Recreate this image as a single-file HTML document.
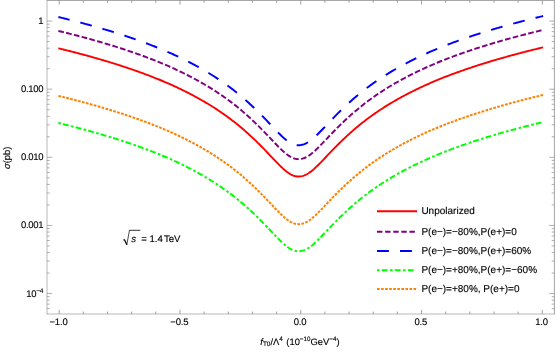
<!DOCTYPE html><html><head><meta charset="utf-8"><style>html,body{margin:0;padding:0;background:#fff}svg{display:block;will-change:transform}text{font-family:"Liberation Sans",sans-serif;fill:#000;stroke:#000;stroke-width:0.13px;text-rendering:geometricPrecision}</style></head><body>
<svg width="560" height="354" viewBox="0 0 560 354">
<rect width="560" height="354" fill="#fff"/>
<path d="M58.37,48.28 L59.58,48.57 L60.79,48.87 L62.01,49.17 L63.22,49.47 L64.43,49.77 L65.64,50.07 L66.85,50.37 L68.07,50.67 L69.28,50.98 L70.49,51.29 L71.70,51.60 L72.91,51.91 L74.12,52.22 L75.34,52.54 L76.55,52.85 L77.76,53.17 L78.97,53.49 L80.18,53.81 L81.40,54.13 L82.61,54.46 L83.82,54.78 L85.03,55.11 L86.24,55.44 L87.46,55.77 L88.67,56.10 L89.88,56.44 L91.09,56.78 L92.30,57.12 L93.52,57.46 L94.73,57.80 L95.94,58.15 L97.15,58.49 L98.36,58.84 L99.57,59.19 L100.79,59.54 L102.00,59.90 L103.21,60.26 L104.42,60.62 L105.63,60.98 L106.85,61.34 L108.06,61.71 L109.27,62.08 L110.48,62.45 L111.69,62.82 L112.91,63.19 L114.12,63.57 L115.33,63.95 L116.54,64.33 L117.75,64.72 L118.96,65.10 L120.18,65.49 L121.39,65.89 L122.60,66.28 L123.81,66.68 L125.02,67.08 L126.24,67.48 L127.45,67.88 L128.66,68.29 L129.87,68.70 L131.08,69.12 L132.30,69.53 L133.51,69.95 L134.72,70.37 L135.93,70.80 L137.14,71.23 L138.36,71.66 L139.57,72.09 L140.78,72.53 L141.99,72.97 L143.20,73.41 L144.41,73.86 L145.63,74.31 L146.84,74.77 L148.05,75.22 L149.26,75.68 L150.47,76.15 L151.69,76.61 L152.90,77.09 L154.11,77.56 L155.32,78.04 L156.53,78.52 L157.75,79.01 L158.96,79.50 L160.17,80.00 L161.38,80.50 L162.59,81.00 L163.81,81.52 L165.02,82.03 L166.23,82.55 L167.44,83.08 L168.65,83.61 L169.86,84.15 L171.08,84.69 L172.29,85.23 L173.50,85.79 L174.71,86.34 L175.92,86.90 L177.14,87.47 L178.35,88.04 L179.56,88.62 L180.77,89.20 L181.98,89.79 L183.20,90.39 L184.41,90.99 L185.62,91.59 L186.83,92.20 L188.04,92.82 L189.26,93.44 L190.47,94.07 L191.68,94.70 L192.89,95.34 L194.10,95.99 L195.31,96.64 L196.53,97.30 L197.74,97.97 L198.95,98.64 L200.16,99.32 L201.37,100.00 L202.59,100.70 L203.80,101.40 L205.01,102.11 L206.22,102.83 L207.43,103.55 L208.65,104.28 L209.86,105.03 L211.07,105.77 L212.28,106.53 L213.49,107.30 L214.71,108.07 L215.92,108.86 L217.13,109.65 L218.34,110.45 L219.55,111.27 L220.76,112.09 L221.98,112.92 L223.19,113.76 L224.40,114.61 L225.61,115.47 L226.82,116.34 L228.04,117.23 L229.25,118.12 L230.46,119.03 L231.67,119.94 L232.88,120.88 L234.10,121.82 L235.31,122.77 L236.52,123.74 L237.73,124.72 L238.94,125.71 L240.15,126.72 L241.37,127.73 L242.58,128.76 L243.79,129.81 L245.00,130.86 L246.21,131.93 L247.43,133.01 L248.64,134.11 L249.85,135.21 L251.06,136.33 L252.27,137.46 L253.49,138.61 L254.70,139.77 L255.91,140.94 L257.12,142.12 L258.33,143.31 L259.55,144.52 L260.76,145.74 L261.97,146.97 L263.18,148.21 L264.39,149.46 L265.60,150.71 L266.82,151.98 L268.03,153.25 L269.24,154.53 L270.45,155.81 L271.66,157.09 L272.88,158.37 L274.09,159.65 L275.30,160.91 L276.51,162.17 L277.72,163.42 L278.94,164.64 L280.15,165.84 L281.36,167.01 L282.57,168.15 L283.78,169.24 L285.00,170.29 L286.21,171.27 L287.42,172.20 L288.63,173.05 L289.84,173.83 L291.05,174.52 L292.27,175.11 L293.48,175.61 L294.69,176.01 L295.90,176.30 L297.11,176.47 L298.33,176.54 L299.54,176.48 L300.75,176.32 L301.96,176.12 L303.17,175.81 L304.39,175.39 L305.60,174.87 L306.81,174.25 L308.02,173.55 L309.23,172.76 L310.45,171.90 L311.66,170.96 L312.87,169.97 L314.08,168.92 L315.29,167.82 L316.50,166.68 L317.72,165.50 L318.93,164.29 L320.14,163.07 L321.35,161.82 L322.56,160.56 L323.78,159.29 L324.99,158.02 L326.20,156.74 L327.41,155.46 L328.62,154.18 L329.84,152.91 L331.05,151.64 L332.26,150.37 L333.47,149.12 L334.68,147.88 L335.90,146.64 L337.11,145.42 L338.32,144.21 L339.53,143.01 L340.74,141.82 L341.95,140.64 L343.17,139.48 L344.38,138.33 L345.59,137.20 L346.80,136.07 L348.01,134.96 L349.23,133.86 L350.44,132.78 L351.65,131.70 L352.86,130.64 L354.07,129.59 L355.29,128.56 L356.50,127.53 L357.71,126.52 L358.92,125.52 L360.13,124.53 L361.35,123.56 L362.56,122.59 L363.77,121.64 L364.98,120.70 L366.19,119.77 L367.40,118.86 L368.62,117.95 L369.83,117.06 L371.04,116.18 L372.25,115.31 L373.46,114.45 L374.68,113.60 L375.89,112.76 L377.10,111.94 L378.31,111.12 L379.52,110.31 L380.74,109.51 L381.95,108.72 L383.16,107.93 L384.37,107.16 L385.58,106.40 L386.79,105.64 L388.01,104.89 L389.22,104.15 L390.43,103.42 L391.64,102.70 L392.85,101.98 L394.07,101.28 L395.28,100.57 L396.49,99.88 L397.70,99.20 L398.91,98.52 L400.13,97.85 L401.34,97.18 L402.55,96.52 L403.76,95.87 L404.97,95.23 L406.19,94.59 L407.40,93.96 L408.61,93.33 L409.82,92.71 L411.03,92.10 L412.24,91.49 L413.46,90.89 L414.67,90.29 L415.88,89.69 L417.09,89.11 L418.30,88.53 L419.52,87.95 L420.73,87.38 L421.94,86.81 L423.15,86.25 L424.36,85.69 L425.58,85.14 L426.79,84.59 L428.00,84.05 L429.21,83.52 L430.42,82.98 L431.64,82.46 L432.85,81.94 L434.06,81.42 L435.27,80.91 L436.48,80.40 L437.69,79.90 L438.91,79.40 L440.12,78.90 L441.33,78.42 L442.54,77.93 L443.75,77.45 L444.97,76.98 L446.18,76.51 L447.39,76.04 L448.60,75.58 L449.81,75.12 L451.03,74.66 L452.24,74.21 L453.45,73.76 L454.66,73.31 L455.87,72.87 L457.09,72.43 L458.30,71.99 L459.51,71.56 L460.72,71.13 L461.93,70.70 L463.14,70.28 L464.36,69.86 L465.57,69.44 L466.78,69.02 L467.99,68.61 L469.20,68.20 L470.42,67.79 L471.63,67.39 L472.84,66.98 L474.05,66.59 L475.26,66.19 L476.48,65.79 L477.69,65.40 L478.90,65.01 L480.11,64.63 L481.32,64.24 L482.53,63.86 L483.75,63.48 L484.96,63.11 L486.17,62.73 L487.38,62.36 L488.59,61.99 L489.81,61.62 L491.02,61.26 L492.23,60.89 L493.44,60.53 L494.65,60.17 L495.87,59.82 L497.08,59.46 L498.29,59.11 L499.50,58.76 L500.71,58.41 L501.93,58.07 L503.14,57.72 L504.35,57.38 L505.56,57.04 L506.77,56.70 L507.98,56.36 L509.20,56.03 L510.41,55.69 L511.62,55.36 L512.83,55.03 L514.04,54.71 L515.26,54.38 L516.47,54.06 L517.68,53.73 L518.89,53.41 L520.10,53.10 L521.32,52.78 L522.53,52.46 L523.74,52.15 L524.95,51.84 L526.16,51.53 L527.38,51.22 L528.59,50.91 L529.80,50.60 L531.01,50.30 L532.22,50.00 L533.43,49.70 L534.65,49.40 L535.86,49.10 L537.07,48.80 L538.28,48.51 L539.49,48.21 L540.71,47.92 L541.92,47.63 L543.13,47.34" fill="none" stroke="#ff0000" stroke-width="1.9" stroke-linejoin="round"/>
<path d="M58.37,30.89 L59.58,31.19 L60.79,31.48 L62.01,31.78 L63.22,32.08 L64.43,32.38 L65.64,32.68 L66.85,32.98 L68.07,33.29 L69.28,33.59 L70.49,33.90 L71.70,34.21 L72.91,34.52 L74.12,34.83 L75.34,35.15 L76.55,35.46 L77.76,35.78 L78.97,36.10 L80.18,36.42 L81.40,36.74 L82.61,37.07 L83.82,37.39 L85.03,37.72 L86.24,38.05 L87.46,38.38 L88.67,38.72 L89.88,39.05 L91.09,39.39 L92.30,39.73 L93.52,40.07 L94.73,40.41 L95.94,40.76 L97.15,41.10 L98.36,41.45 L99.57,41.80 L100.79,42.16 L102.00,42.51 L103.21,42.87 L104.42,43.23 L105.63,43.59 L106.85,43.95 L108.06,44.32 L109.27,44.69 L110.48,45.06 L111.69,45.43 L112.91,45.80 L114.12,46.18 L115.33,46.56 L116.54,46.94 L117.75,47.33 L118.96,47.71 L120.18,48.10 L121.39,48.50 L122.60,48.89 L123.81,49.29 L125.02,49.69 L126.24,50.09 L127.45,50.50 L128.66,50.90 L129.87,51.31 L131.08,51.73 L132.30,52.14 L133.51,52.56 L134.72,52.99 L135.93,53.41 L137.14,53.84 L138.36,54.27 L139.57,54.70 L140.78,55.14 L141.99,55.58 L143.20,56.03 L144.41,56.47 L145.63,56.92 L146.84,57.38 L148.05,57.83 L149.26,58.29 L150.47,58.76 L151.69,59.23 L152.90,59.70 L154.11,60.17 L155.32,60.65 L156.53,61.13 L157.75,61.62 L158.96,62.11 L160.17,62.61 L161.38,63.11 L162.59,63.62 L163.81,64.13 L165.02,64.64 L166.23,65.16 L167.44,65.69 L168.65,66.22 L169.86,66.76 L171.08,67.30 L172.29,67.85 L173.50,68.40 L174.71,68.95 L175.92,69.52 L177.14,70.08 L178.35,70.65 L179.56,71.23 L180.77,71.82 L181.98,72.40 L183.20,73.00 L184.41,73.60 L185.62,74.20 L186.83,74.81 L188.04,75.43 L189.26,76.05 L190.47,76.68 L191.68,77.31 L192.89,77.95 L194.10,78.60 L195.31,79.25 L196.53,79.91 L197.74,80.58 L198.95,81.25 L200.16,81.93 L201.37,82.62 L202.59,83.31 L203.80,84.01 L205.01,84.72 L206.22,85.44 L207.43,86.16 L208.65,86.89 L209.86,87.64 L211.07,88.39 L212.28,89.14 L213.49,89.91 L214.71,90.69 L215.92,91.47 L217.13,92.26 L218.34,93.07 L219.55,93.88 L220.76,94.70 L221.98,95.53 L223.19,96.37 L224.40,97.22 L225.61,98.08 L226.82,98.96 L228.04,99.84 L229.25,100.73 L230.46,101.64 L231.67,102.56 L232.88,103.49 L234.10,104.43 L235.31,105.38 L236.52,106.35 L237.73,107.33 L238.94,108.32 L240.15,109.33 L241.37,110.34 L242.58,111.37 L243.79,112.42 L245.00,113.47 L246.21,114.54 L247.43,115.62 L248.64,116.72 L249.85,117.82 L251.06,118.94 L252.27,120.08 L253.49,121.22 L254.70,122.38 L255.91,123.55 L257.12,124.73 L258.33,125.92 L259.55,127.13 L260.76,128.35 L261.97,129.58 L263.18,130.82 L264.39,132.07 L265.60,133.32 L266.82,134.59 L268.03,135.86 L269.24,137.14 L270.45,138.42 L271.66,139.70 L272.88,140.98 L274.09,142.26 L275.30,143.53 L276.51,144.78 L277.72,146.03 L278.94,147.25 L280.15,148.45 L281.36,149.62 L282.57,150.76 L283.78,151.85 L285.00,152.90 L286.21,153.88 L287.42,154.81 L288.63,155.66 L289.84,156.44 L291.05,157.13 L292.27,157.72 L293.48,158.22 L294.69,158.62 L295.90,158.91 L297.11,159.08 L298.33,159.15 L299.54,159.09 L300.75,158.93 L301.96,158.73 L303.17,158.42 L304.39,158.00 L305.60,157.48 L306.81,156.86 L308.02,156.16 L309.23,155.37 L310.45,154.51 L311.66,153.57 L312.87,152.58 L314.08,151.53 L315.29,150.43 L316.50,149.29 L317.72,148.11 L318.93,146.91 L320.14,145.68 L321.35,144.43 L322.56,143.17 L323.78,141.90 L324.99,140.63 L326.20,139.35 L327.41,138.07 L328.62,136.79 L329.84,135.52 L331.05,134.25 L332.26,132.99 L333.47,131.73 L334.68,130.49 L335.90,129.25 L337.11,128.03 L338.32,126.82 L339.53,125.62 L340.74,124.43 L341.95,123.26 L343.17,122.09 L344.38,120.94 L345.59,119.81 L346.80,118.68 L348.01,117.57 L349.23,116.47 L350.44,115.39 L351.65,114.31 L352.86,113.25 L354.07,112.20 L355.29,111.17 L356.50,110.14 L357.71,109.13 L358.92,108.13 L360.13,107.14 L361.35,106.17 L362.56,105.20 L363.77,104.25 L364.98,103.31 L366.19,102.39 L367.40,101.47 L368.62,100.56 L369.83,99.67 L371.04,98.79 L372.25,97.92 L373.46,97.06 L374.68,96.21 L375.89,95.37 L377.10,94.55 L378.31,93.73 L379.52,92.92 L380.74,92.12 L381.95,91.33 L383.16,90.54 L384.37,89.77 L385.58,89.01 L386.79,88.25 L388.01,87.50 L389.22,86.76 L390.43,86.03 L391.64,85.31 L392.85,84.59 L394.07,83.89 L395.28,83.19 L396.49,82.49 L397.70,81.81 L398.91,81.13 L400.13,80.46 L401.34,79.79 L402.55,79.14 L403.76,78.49 L404.97,77.84 L406.19,77.20 L407.40,76.57 L408.61,75.95 L409.82,75.32 L411.03,74.71 L412.24,74.10 L413.46,73.50 L414.67,72.90 L415.88,72.31 L417.09,71.72 L418.30,71.14 L419.52,70.56 L420.73,69.99 L421.94,69.42 L423.15,68.86 L424.36,68.30 L425.58,67.75 L426.79,67.20 L428.00,66.66 L429.21,66.13 L430.42,65.60 L431.64,65.07 L432.85,64.55 L434.06,64.03 L435.27,63.52 L436.48,63.01 L437.69,62.51 L438.91,62.01 L440.12,61.51 L441.33,61.03 L442.54,60.54 L443.75,60.06 L444.97,59.59 L446.18,59.12 L447.39,58.65 L448.60,58.19 L449.81,57.73 L451.03,57.27 L452.24,56.82 L453.45,56.37 L454.66,55.92 L455.87,55.48 L457.09,55.04 L458.30,54.60 L459.51,54.17 L460.72,53.74 L461.93,53.31 L463.14,52.89 L464.36,52.47 L465.57,52.05 L466.78,51.63 L467.99,51.22 L469.20,50.81 L470.42,50.40 L471.63,50.00 L472.84,49.60 L474.05,49.20 L475.26,48.80 L476.48,48.41 L477.69,48.01 L478.90,47.63 L480.11,47.24 L481.32,46.86 L482.53,46.47 L483.75,46.09 L484.96,45.72 L486.17,45.34 L487.38,44.97 L488.59,44.60 L489.81,44.23 L491.02,43.87 L492.23,43.50 L493.44,43.14 L494.65,42.79 L495.87,42.43 L497.08,42.07 L498.29,41.72 L499.50,41.37 L500.71,41.02 L501.93,40.68 L503.14,40.33 L504.35,39.99 L505.56,39.65 L506.77,39.31 L507.98,38.97 L509.20,38.64 L510.41,38.31 L511.62,37.97 L512.83,37.65 L514.04,37.32 L515.26,36.99 L516.47,36.67 L517.68,36.35 L518.89,36.03 L520.10,35.71 L521.32,35.39 L522.53,35.07 L523.74,34.76 L524.95,34.45 L526.16,34.14 L527.38,33.83 L528.59,33.52 L529.80,33.22 L531.01,32.91 L532.22,32.61 L533.43,32.31 L534.65,32.01 L535.86,31.71 L537.07,31.41 L538.28,31.12 L539.49,30.82 L540.71,30.53 L541.92,30.24 L543.13,29.95" fill="none" stroke="#800080" stroke-width="1.95" stroke-dasharray="5.7 2.3015" stroke-linejoin="round"/>
<path d="M58.37,16.99 L59.58,17.28 L60.79,17.58 L62.01,17.87 L63.22,18.17 L64.43,18.47 L65.64,18.77 L66.85,19.08 L68.07,19.38 L69.28,19.69 L70.49,20.00 L71.70,20.30 L72.91,20.62 L74.12,20.93 L75.34,21.24 L76.55,21.56 L77.76,21.88 L78.97,22.19 L80.18,22.52 L81.40,22.84 L82.61,23.16 L83.82,23.49 L85.03,23.82 L86.24,24.15 L87.46,24.48 L88.67,24.81 L89.88,25.15 L91.09,25.48 L92.30,25.82 L93.52,26.16 L94.73,26.51 L95.94,26.85 L97.15,27.20 L98.36,27.55 L99.57,27.90 L100.79,28.25 L102.00,28.61 L103.21,28.96 L104.42,29.32 L105.63,29.68 L106.85,30.05 L108.06,30.41 L109.27,30.78 L110.48,31.15 L111.69,31.52 L112.91,31.90 L114.12,32.28 L115.33,32.66 L116.54,33.04 L117.75,33.42 L118.96,33.81 L120.18,34.20 L121.39,34.59 L122.60,34.99 L123.81,35.38 L125.02,35.78 L126.24,36.19 L127.45,36.59 L128.66,37.00 L129.87,37.41 L131.08,37.82 L132.30,38.24 L133.51,38.66 L134.72,39.08 L135.93,39.51 L137.14,39.93 L138.36,40.37 L139.57,40.80 L140.78,41.24 L141.99,41.68 L143.20,42.12 L144.41,42.57 L145.63,43.02 L146.84,43.47 L148.05,43.93 L149.26,44.39 L150.47,44.85 L151.69,45.32 L152.90,45.79 L154.11,46.27 L155.32,46.74 L156.53,47.23 L157.75,47.71 L158.96,48.21 L160.17,48.70 L161.38,49.20 L162.59,49.71 L163.81,50.22 L165.02,50.74 L166.23,51.26 L167.44,51.79 L168.65,52.32 L169.86,52.85 L171.08,53.39 L172.29,53.94 L173.50,54.49 L174.71,55.05 L175.92,55.61 L177.14,56.18 L178.35,56.75 L179.56,57.33 L180.77,57.91 L181.98,58.50 L183.20,59.09 L184.41,59.69 L185.62,60.30 L186.83,60.91 L188.04,61.53 L189.26,62.15 L190.47,62.78 L191.68,63.41 L192.89,64.05 L194.10,64.70 L195.31,65.35 L196.53,66.01 L197.74,66.67 L198.95,67.34 L200.16,68.02 L201.37,68.71 L202.59,69.40 L203.80,70.11 L205.01,70.82 L206.22,71.53 L207.43,72.26 L208.65,72.99 L209.86,73.73 L211.07,74.48 L212.28,75.24 L213.49,76.01 L214.71,76.78 L215.92,77.57 L217.13,78.36 L218.34,79.16 L219.55,79.97 L220.76,80.79 L221.98,81.63 L223.19,82.47 L224.40,83.32 L225.61,84.18 L226.82,85.05 L228.04,85.93 L229.25,86.83 L230.46,87.73 L231.67,88.65 L232.88,89.58 L234.10,90.52 L235.31,91.48 L236.52,92.45 L237.73,93.43 L238.94,94.42 L240.15,95.42 L241.37,96.44 L242.58,97.47 L243.79,98.51 L245.00,99.57 L246.21,100.64 L247.43,101.72 L248.64,102.81 L249.85,103.92 L251.06,105.04 L252.27,106.17 L253.49,107.31 L254.70,108.47 L255.91,109.64 L257.12,110.82 L258.33,112.02 L259.55,113.22 L260.76,114.44 L261.97,115.67 L263.18,116.91 L264.39,118.16 L265.60,119.42 L266.82,120.69 L268.03,121.96 L269.24,123.24 L270.45,124.52 L271.66,125.80 L272.88,127.08 L274.09,128.35 L275.30,129.62 L276.51,130.88 L277.72,132.12 L278.94,133.35 L280.15,134.55 L281.36,135.72 L282.57,136.85 L283.78,137.95 L285.00,138.99 L286.21,139.98 L287.42,140.90 L288.63,141.76 L289.84,142.53 L291.05,143.22 L292.27,143.82 L293.48,144.32 L294.69,144.71 L295.90,145.00 L297.11,145.18 L298.33,145.24 L299.54,145.19 L300.75,145.02 L301.96,144.82 L303.17,144.51 L304.39,144.09 L305.60,143.58 L306.81,142.96 L308.02,142.25 L309.23,141.47 L310.45,140.60 L311.66,139.67 L312.87,138.67 L314.08,137.62 L315.29,136.52 L316.50,135.38 L317.72,134.21 L318.93,133.00 L320.14,131.77 L321.35,130.53 L322.56,129.27 L323.78,128.00 L324.99,126.72 L326.20,125.44 L327.41,124.16 L328.62,122.89 L329.84,121.61 L331.05,120.34 L332.26,119.08 L333.47,117.83 L334.68,116.58 L335.90,115.35 L337.11,114.13 L338.32,112.91 L339.53,111.71 L340.74,110.53 L341.95,109.35 L343.17,108.19 L344.38,107.04 L345.59,105.90 L346.80,104.78 L348.01,103.67 L349.23,102.57 L350.44,101.48 L351.65,100.41 L352.86,99.35 L354.07,98.30 L355.29,97.26 L356.50,96.24 L357.71,95.23 L358.92,94.23 L360.13,93.24 L361.35,92.26 L362.56,91.30 L363.77,90.35 L364.98,89.41 L366.19,88.48 L367.40,87.56 L368.62,86.66 L369.83,85.77 L371.04,84.89 L372.25,84.02 L373.46,83.16 L374.68,82.31 L375.89,81.47 L377.10,80.64 L378.31,79.82 L379.52,79.01 L380.74,78.21 L381.95,77.42 L383.16,76.64 L384.37,75.87 L385.58,75.10 L386.79,74.35 L388.01,73.60 L389.22,72.86 L390.43,72.13 L391.64,71.40 L392.85,70.69 L394.07,69.98 L395.28,69.28 L396.49,68.59 L397.70,67.90 L398.91,67.22 L400.13,66.55 L401.34,65.89 L402.55,65.23 L403.76,64.58 L404.97,63.94 L406.19,63.30 L407.40,62.67 L408.61,62.04 L409.82,61.42 L411.03,60.81 L412.24,60.20 L413.46,59.59 L414.67,58.99 L415.88,58.40 L417.09,57.81 L418.30,57.23 L419.52,56.65 L420.73,56.08 L421.94,55.52 L423.15,54.95 L424.36,54.40 L425.58,53.85 L426.79,53.30 L428.00,52.76 L429.21,52.22 L430.42,51.69 L431.64,51.16 L432.85,50.64 L434.06,50.12 L435.27,49.61 L436.48,49.10 L437.69,48.60 L438.91,48.10 L440.12,47.61 L441.33,47.12 L442.54,46.64 L443.75,46.16 L444.97,45.68 L446.18,45.21 L447.39,44.75 L448.60,44.28 L449.81,43.82 L451.03,43.37 L452.24,42.91 L453.45,42.46 L454.66,42.02 L455.87,41.58 L457.09,41.14 L458.30,40.70 L459.51,40.27 L460.72,39.83 L461.93,39.41 L463.14,38.98 L464.36,38.56 L465.57,38.14 L466.78,37.73 L467.99,37.31 L469.20,36.90 L470.42,36.50 L471.63,36.09 L472.84,35.69 L474.05,35.29 L475.26,34.90 L476.48,34.50 L477.69,34.11 L478.90,33.72 L480.11,33.33 L481.32,32.95 L482.53,32.57 L483.75,32.19 L484.96,31.81 L486.17,31.44 L487.38,31.07 L488.59,30.70 L489.81,30.33 L491.02,29.96 L492.23,29.60 L493.44,29.24 L494.65,28.88 L495.87,28.52 L497.08,28.17 L498.29,27.82 L499.50,27.47 L500.71,27.12 L501.93,26.77 L503.14,26.43 L504.35,26.08 L505.56,25.74 L506.77,25.41 L507.98,25.07 L509.20,24.73 L510.41,24.40 L511.62,24.07 L512.83,23.74 L514.04,23.41 L515.26,23.09 L516.47,22.76 L517.68,22.44 L518.89,22.12 L520.10,21.80 L521.32,21.48 L522.53,21.17 L523.74,20.86 L524.95,20.54 L526.16,20.23 L527.38,19.92 L528.59,19.62 L529.80,19.31 L531.01,19.01 L532.22,18.70 L533.43,18.40 L534.65,18.10 L535.86,17.80 L537.07,17.51 L538.28,17.21 L539.49,16.92 L540.71,16.63 L541.92,16.34 L543.13,16.05" fill="none" stroke="#0000ff" stroke-width="1.95" stroke-dasharray="11.9 11.1" stroke-dashoffset="0.37" stroke-linejoin="round"/>
<path d="M58.37,123.00 L59.58,123.30 L60.79,123.59 L62.01,123.89 L63.22,124.19 L64.43,124.49 L65.64,124.79 L66.85,125.09 L68.07,125.40 L69.28,125.70 L70.49,126.01 L71.70,126.32 L72.91,126.63 L74.12,126.94 L75.34,127.26 L76.55,127.57 L77.76,127.89 L78.97,128.21 L80.18,128.53 L81.40,128.85 L82.61,129.18 L83.82,129.50 L85.03,129.83 L86.24,130.16 L87.46,130.49 L88.67,130.83 L89.88,131.16 L91.09,131.50 L92.30,131.84 L93.52,132.18 L94.73,132.52 L95.94,132.87 L97.15,133.21 L98.36,133.56 L99.57,133.91 L100.79,134.27 L102.00,134.62 L103.21,134.98 L104.42,135.34 L105.63,135.70 L106.85,136.06 L108.06,136.43 L109.27,136.80 L110.48,137.17 L111.69,137.54 L112.91,137.91 L114.12,138.29 L115.33,138.67 L116.54,139.05 L117.75,139.44 L118.96,139.83 L120.18,140.22 L121.39,140.61 L122.60,141.00 L123.81,141.40 L125.02,141.80 L126.24,142.20 L127.45,142.61 L128.66,143.01 L129.87,143.43 L131.08,143.84 L132.30,144.25 L133.51,144.67 L134.72,145.10 L135.93,145.52 L137.14,145.95 L138.36,146.38 L139.57,146.81 L140.78,147.25 L141.99,147.69 L143.20,148.14 L144.41,148.58 L145.63,149.03 L146.84,149.49 L148.05,149.94 L149.26,150.40 L150.47,150.87 L151.69,151.34 L152.90,151.81 L154.11,152.28 L155.32,152.76 L156.53,153.24 L157.75,153.73 L158.96,154.22 L160.17,154.72 L161.38,155.22 L162.59,155.73 L163.81,156.24 L165.02,156.75 L166.23,157.28 L167.44,157.80 L168.65,158.33 L169.86,158.87 L171.08,159.41 L172.29,159.96 L173.50,160.51 L174.71,161.06 L175.92,161.63 L177.14,162.19 L178.35,162.77 L179.56,163.34 L180.77,163.93 L181.98,164.51 L183.20,165.11 L184.41,165.71 L185.62,166.31 L186.83,166.92 L188.04,167.54 L189.26,168.16 L190.47,168.79 L191.68,169.43 L192.89,170.07 L194.10,170.71 L195.31,171.36 L196.53,172.02 L197.74,172.69 L198.95,173.36 L200.16,174.04 L201.37,174.73 L202.59,175.42 L203.80,176.12 L205.01,176.83 L206.22,177.55 L207.43,178.27 L208.65,179.01 L209.86,179.75 L211.07,180.50 L212.28,181.25 L213.49,182.02 L214.71,182.80 L215.92,183.58 L217.13,184.37 L218.34,185.18 L219.55,185.99 L220.76,186.81 L221.98,187.64 L223.19,188.48 L224.40,189.33 L225.61,190.19 L226.82,191.07 L228.04,191.95 L229.25,192.84 L230.46,193.75 L231.67,194.67 L232.88,195.60 L234.10,196.54 L235.31,197.49 L236.52,198.46 L237.73,199.44 L238.94,200.43 L240.15,201.44 L241.37,202.45 L242.58,203.48 L243.79,204.53 L245.00,205.58 L246.21,206.65 L247.43,207.73 L248.64,208.83 L249.85,209.93 L251.06,211.05 L252.27,212.19 L253.49,213.33 L254.70,214.49 L255.91,215.66 L257.12,216.84 L258.33,218.03 L259.55,219.24 L260.76,220.46 L261.97,221.69 L263.18,222.93 L264.39,224.18 L265.60,225.44 L266.82,226.70 L268.03,227.97 L269.24,229.25 L270.45,230.53 L271.66,231.81 L272.88,233.09 L274.09,234.37 L275.30,235.64 L276.51,236.89 L277.72,238.14 L278.94,239.36 L280.15,240.56 L281.36,241.73 L282.57,242.87 L283.78,243.96 L285.00,245.01 L286.21,246.00 L287.42,246.92 L288.63,247.77 L289.84,248.55 L291.05,249.24 L292.27,249.83 L293.48,250.33 L294.69,250.73 L295.90,251.02 L297.11,251.19 L298.33,251.26 L299.54,251.21 L300.75,251.04 L301.96,250.84 L303.17,250.53 L304.39,250.11 L305.60,249.59 L306.81,248.98 L308.02,248.27 L309.23,247.48 L310.45,246.62 L311.66,245.68 L312.87,244.69 L314.08,243.64 L315.29,242.54 L316.50,241.40 L317.72,240.22 L318.93,239.02 L320.14,237.79 L321.35,236.54 L322.56,235.28 L323.78,234.01 L324.99,232.74 L326.20,231.46 L327.41,230.18 L328.62,228.90 L329.84,227.63 L331.05,226.36 L332.26,225.10 L333.47,223.84 L334.68,222.60 L335.90,221.36 L337.11,220.14 L338.32,218.93 L339.53,217.73 L340.74,216.54 L341.95,215.37 L343.17,214.20 L344.38,213.05 L345.59,211.92 L346.80,210.79 L348.01,209.68 L349.23,208.58 L350.44,207.50 L351.65,206.42 L352.86,205.36 L354.07,204.31 L355.29,203.28 L356.50,202.25 L357.71,201.24 L358.92,200.24 L360.13,199.25 L361.35,198.28 L362.56,197.31 L363.77,196.36 L364.98,195.42 L366.19,194.50 L367.40,193.58 L368.62,192.67 L369.83,191.78 L371.04,190.90 L372.25,190.03 L373.46,189.17 L374.68,188.32 L375.89,187.49 L377.10,186.66 L378.31,185.84 L379.52,185.03 L380.74,184.23 L381.95,183.44 L383.16,182.66 L384.37,181.88 L385.58,181.12 L386.79,180.36 L388.01,179.61 L389.22,178.87 L390.43,178.14 L391.64,177.42 L392.85,176.70 L394.07,176.00 L395.28,175.30 L396.49,174.60 L397.70,173.92 L398.91,173.24 L400.13,172.57 L401.34,171.90 L402.55,171.25 L403.76,170.60 L404.97,169.95 L406.19,169.31 L407.40,168.68 L408.61,168.06 L409.82,167.44 L411.03,166.82 L412.24,166.21 L413.46,165.61 L414.67,165.01 L415.88,164.42 L417.09,163.83 L418.30,163.25 L419.52,162.67 L420.73,162.10 L421.94,161.53 L423.15,160.97 L424.36,160.41 L425.58,159.86 L426.79,159.32 L428.00,158.77 L429.21,158.24 L430.42,157.71 L431.64,157.18 L432.85,156.66 L434.06,156.14 L435.27,155.63 L436.48,155.12 L437.69,154.62 L438.91,154.12 L440.12,153.63 L441.33,153.14 L442.54,152.65 L443.75,152.17 L444.97,151.70 L446.18,151.23 L447.39,150.76 L448.60,150.30 L449.81,149.84 L451.03,149.38 L452.24,148.93 L453.45,148.48 L454.66,148.03 L455.87,147.59 L457.09,147.15 L458.30,146.71 L459.51,146.28 L460.72,145.85 L461.93,145.42 L463.14,145.00 L464.36,144.58 L465.57,144.16 L466.78,143.74 L467.99,143.33 L469.20,142.92 L470.42,142.51 L471.63,142.11 L472.84,141.71 L474.05,141.31 L475.26,140.91 L476.48,140.52 L477.69,140.13 L478.90,139.74 L480.11,139.35 L481.32,138.97 L482.53,138.58 L483.75,138.20 L484.96,137.83 L486.17,137.45 L487.38,137.08 L488.59,136.71 L489.81,136.34 L491.02,135.98 L492.23,135.62 L493.44,135.25 L494.65,134.90 L495.87,134.54 L497.08,134.18 L498.29,133.83 L499.50,133.48 L500.71,133.13 L501.93,132.79 L503.14,132.44 L504.35,132.10 L505.56,131.76 L506.77,131.42 L507.98,131.08 L509.20,130.75 L510.41,130.42 L511.62,130.09 L512.83,129.76 L514.04,129.43 L515.26,129.10 L516.47,128.78 L517.68,128.46 L518.89,128.14 L520.10,127.82 L521.32,127.50 L522.53,127.18 L523.74,126.87 L524.95,126.56 L526.16,126.25 L527.38,125.94 L528.59,125.63 L529.80,125.33 L531.01,125.02 L532.22,124.72 L533.43,124.42 L534.65,124.12 L535.86,123.82 L537.07,123.52 L538.28,123.23 L539.49,122.93 L540.71,122.64 L541.92,122.35 L543.13,122.06" fill="none" stroke="#00ff00" stroke-width="2.0" stroke-dasharray="2.6 2.1 5.85 2.48" stroke-linejoin="round"/>
<path d="M58.37,95.89 L59.58,96.19 L60.79,96.48 L62.01,96.78 L63.22,97.08 L64.43,97.38 L65.64,97.68 L66.85,97.98 L68.07,98.29 L69.28,98.59 L70.49,98.90 L71.70,99.21 L72.91,99.52 L74.12,99.84 L75.34,100.15 L76.55,100.47 L77.76,100.78 L78.97,101.10 L80.18,101.42 L81.40,101.75 L82.61,102.07 L83.82,102.40 L85.03,102.72 L86.24,103.05 L87.46,103.39 L88.67,103.72 L89.88,104.05 L91.09,104.39 L92.30,104.73 L93.52,105.07 L94.73,105.41 L95.94,105.76 L97.15,106.11 L98.36,106.45 L99.57,106.81 L100.79,107.16 L102.00,107.51 L103.21,107.87 L104.42,108.23 L105.63,108.59 L106.85,108.96 L108.06,109.32 L109.27,109.69 L110.48,110.06 L111.69,110.43 L112.91,110.81 L114.12,111.18 L115.33,111.56 L116.54,111.95 L117.75,112.33 L118.96,112.72 L120.18,113.11 L121.39,113.50 L122.60,113.89 L123.81,114.29 L125.02,114.69 L126.24,115.09 L127.45,115.50 L128.66,115.91 L129.87,116.32 L131.08,116.73 L132.30,117.15 L133.51,117.57 L134.72,117.99 L135.93,118.41 L137.14,118.84 L138.36,119.27 L139.57,119.71 L140.78,120.14 L141.99,120.58 L143.20,121.03 L144.41,121.48 L145.63,121.93 L146.84,122.38 L148.05,122.84 L149.26,123.30 L150.47,123.76 L151.69,124.23 L152.90,124.70 L154.11,125.17 L155.32,125.65 L156.53,126.13 L157.75,126.62 L158.96,127.11 L160.17,127.61 L161.38,128.11 L162.59,128.62 L163.81,129.13 L165.02,129.65 L166.23,130.17 L167.44,130.69 L168.65,131.22 L169.86,131.76 L171.08,132.30 L172.29,132.85 L173.50,133.40 L174.71,133.96 L175.92,134.52 L177.14,135.09 L178.35,135.66 L179.56,136.24 L180.77,136.82 L181.98,137.41 L183.20,138.00 L184.41,138.60 L185.62,139.21 L186.83,139.82 L188.04,140.43 L189.26,141.06 L190.47,141.68 L191.68,142.32 L192.89,142.96 L194.10,143.60 L195.31,144.26 L196.53,144.91 L197.74,145.58 L198.95,146.25 L200.16,146.93 L201.37,147.62 L202.59,148.31 L203.80,149.01 L205.01,149.72 L206.22,150.44 L207.43,151.17 L208.65,151.90 L209.86,152.64 L211.07,153.39 L212.28,154.15 L213.49,154.91 L214.71,155.69 L215.92,156.47 L217.13,157.27 L218.34,158.07 L219.55,158.88 L220.76,159.70 L221.98,160.53 L223.19,161.37 L224.40,162.23 L225.61,163.09 L226.82,163.96 L228.04,164.84 L229.25,165.74 L230.46,166.64 L231.67,167.56 L232.88,168.49 L234.10,169.43 L235.31,170.39 L236.52,171.35 L237.73,172.33 L238.94,173.32 L240.15,174.33 L241.37,175.35 L242.58,176.38 L243.79,177.42 L245.00,178.48 L246.21,179.54 L247.43,180.63 L248.64,181.72 L249.85,182.83 L251.06,183.95 L252.27,185.08 L253.49,186.22 L254.70,187.38 L255.91,188.55 L257.12,189.73 L258.33,190.93 L259.55,192.13 L260.76,193.35 L261.97,194.58 L263.18,195.82 L264.39,197.07 L265.60,198.33 L266.82,199.59 L268.03,200.87 L269.24,202.14 L270.45,203.42 L271.66,204.70 L272.88,205.98 L274.09,207.26 L275.30,208.53 L276.51,209.79 L277.72,211.03 L278.94,212.25 L280.15,213.45 L281.36,214.62 L282.57,215.76 L283.78,216.85 L285.00,217.90 L286.21,218.89 L287.42,219.81 L288.63,220.67 L289.84,221.44 L291.05,222.13 L292.27,222.73 L293.48,223.23 L294.69,223.62 L295.90,223.91 L297.11,224.09 L298.33,224.15 L299.54,224.10 L300.75,223.93 L301.96,223.73 L303.17,223.42 L304.39,223.00 L305.60,222.48 L306.81,221.87 L308.02,221.16 L309.23,220.37 L310.45,219.51 L311.66,218.58 L312.87,217.58 L314.08,216.53 L315.29,215.43 L316.50,214.29 L317.72,213.11 L318.93,211.91 L320.14,210.68 L321.35,209.43 L322.56,208.17 L323.78,206.91 L324.99,205.63 L326.20,204.35 L327.41,203.07 L328.62,201.79 L329.84,200.52 L331.05,199.25 L332.26,197.99 L333.47,196.74 L334.68,195.49 L335.90,194.26 L337.11,193.03 L338.32,191.82 L339.53,190.62 L340.74,189.43 L341.95,188.26 L343.17,187.10 L344.38,185.95 L345.59,184.81 L346.80,183.69 L348.01,182.57 L349.23,181.48 L350.44,180.39 L351.65,179.32 L352.86,178.26 L354.07,177.21 L355.29,176.17 L356.50,175.15 L357.71,174.13 L358.92,173.13 L360.13,172.15 L361.35,171.17 L362.56,170.21 L363.77,169.26 L364.98,168.32 L366.19,167.39 L367.40,166.47 L368.62,165.57 L369.83,164.67 L371.04,163.79 L372.25,162.92 L373.46,162.06 L374.68,161.22 L375.89,160.38 L377.10,159.55 L378.31,158.73 L379.52,157.92 L380.74,157.12 L381.95,156.33 L383.16,155.55 L384.37,154.77 L385.58,154.01 L386.79,153.25 L388.01,152.51 L389.22,151.77 L390.43,151.04 L391.64,150.31 L392.85,149.60 L394.07,148.89 L395.28,148.19 L396.49,147.50 L397.70,146.81 L398.91,146.13 L400.13,145.46 L401.34,144.80 L402.55,144.14 L403.76,143.49 L404.97,142.84 L406.19,142.21 L407.40,141.57 L408.61,140.95 L409.82,140.33 L411.03,139.71 L412.24,139.10 L413.46,138.50 L414.67,137.90 L415.88,137.31 L417.09,136.72 L418.30,136.14 L419.52,135.56 L420.73,134.99 L421.94,134.42 L423.15,133.86 L424.36,133.31 L425.58,132.75 L426.79,132.21 L428.00,131.67 L429.21,131.13 L430.42,130.60 L431.64,130.07 L432.85,129.55 L434.06,129.03 L435.27,128.52 L436.48,128.01 L437.69,127.51 L438.91,127.01 L440.12,126.52 L441.33,126.03 L442.54,125.54 L443.75,125.07 L444.97,124.59 L446.18,124.12 L447.39,123.65 L448.60,123.19 L449.81,122.73 L451.03,122.27 L452.24,121.82 L453.45,121.37 L454.66,120.93 L455.87,120.48 L457.09,120.04 L458.30,119.61 L459.51,119.17 L460.72,118.74 L461.93,118.32 L463.14,117.89 L464.36,117.47 L465.57,117.05 L466.78,116.64 L467.99,116.22 L469.20,115.81 L470.42,115.41 L471.63,115.00 L472.84,114.60 L474.05,114.20 L475.26,113.80 L476.48,113.41 L477.69,113.02 L478.90,112.63 L480.11,112.24 L481.32,111.86 L482.53,111.48 L483.75,111.10 L484.96,110.72 L486.17,110.35 L487.38,109.97 L488.59,109.60 L489.81,109.24 L491.02,108.87 L492.23,108.51 L493.44,108.15 L494.65,107.79 L495.87,107.43 L497.08,107.08 L498.29,106.72 L499.50,106.37 L500.71,106.03 L501.93,105.68 L503.14,105.33 L504.35,104.99 L505.56,104.65 L506.77,104.31 L507.98,103.98 L509.20,103.64 L510.41,103.31 L511.62,102.98 L512.83,102.65 L514.04,102.32 L515.26,101.99 L516.47,101.67 L517.68,101.35 L518.89,101.03 L520.10,100.71 L521.32,100.39 L522.53,100.08 L523.74,99.76 L524.95,99.45 L526.16,99.14 L527.38,98.83 L528.59,98.52 L529.80,98.22 L531.01,97.91 L532.22,97.61 L533.43,97.31 L534.65,97.01 L535.86,96.71 L537.07,96.42 L538.28,96.12 L539.49,95.83 L540.71,95.53 L541.92,95.24 L543.13,94.95" fill="none" stroke="#ff8000" stroke-width="2.0" stroke-dasharray="2.7 1.3633" stroke-linejoin="round"/>
<g stroke="#8c8c8c" stroke-width="0.8" fill="none">
<path d="M46.70,0.45H554.80 M554.40,0.45V314.30"/>
<path d="M47.00,0.45V314.30 M46.70,314.00H554.80" stroke-width="0.6"/>
<path d="M59.20,314.00v-4.10 M59.20,0.45v4.10"/>
<path d="M83.35,314.00v-2.40 M83.35,0.45v2.40"/>
<path d="M107.51,314.00v-2.40 M107.51,0.45v2.40"/>
<path d="M131.66,314.00v-2.40 M131.66,0.45v2.40"/>
<path d="M155.82,314.00v-2.40 M155.82,0.45v2.40"/>
<path d="M179.97,314.00v-4.10 M179.97,0.45v4.10"/>
<path d="M204.13,314.00v-2.40 M204.13,0.45v2.40"/>
<path d="M228.28,314.00v-2.40 M228.28,0.45v2.40"/>
<path d="M252.44,314.00v-2.40 M252.44,0.45v2.40"/>
<path d="M276.60,314.00v-2.40 M276.60,0.45v2.40"/>
<path d="M300.75,314.00v-4.10 M300.75,0.45v4.10"/>
<path d="M324.90,314.00v-2.40 M324.90,0.45v2.40"/>
<path d="M349.06,314.00v-2.40 M349.06,0.45v2.40"/>
<path d="M373.22,314.00v-2.40 M373.22,0.45v2.40"/>
<path d="M397.37,314.00v-2.40 M397.37,0.45v2.40"/>
<path d="M421.52,314.00v-4.10 M421.52,0.45v4.10"/>
<path d="M445.68,314.00v-2.40 M445.68,0.45v2.40"/>
<path d="M469.84,314.00v-2.40 M469.84,0.45v2.40"/>
<path d="M493.99,314.00v-2.40 M493.99,0.45v2.40"/>
<path d="M518.14,314.00v-2.40 M518.14,0.45v2.40"/>
<path d="M542.30,314.00v-4.10 M542.30,0.45v4.10"/>
<path d="M47.00,308.67h2.70 M554.40,308.67h-2.70" stroke-width="0.7"/>
<path d="M47.00,304.11h2.70 M554.40,304.11h-2.70" stroke-width="0.7"/>
<path d="M47.00,300.16h2.70 M554.40,300.16h-2.70" stroke-width="0.7"/>
<path d="M47.00,296.68h2.70 M554.40,296.68h-2.70" stroke-width="0.7"/>
<path d="M47.00,293.56h5.20 M554.40,293.56h-5.20" stroke-width="0.7"/>
<path d="M47.00,273.05h2.70 M554.40,273.05h-2.70" stroke-width="0.7"/>
<path d="M47.00,261.06h2.70 M554.40,261.06h-2.70" stroke-width="0.7"/>
<path d="M47.00,252.55h2.70 M554.40,252.55h-2.70" stroke-width="0.7"/>
<path d="M47.00,245.95h2.70 M554.40,245.95h-2.70" stroke-width="0.7"/>
<path d="M47.00,240.55h2.70 M554.40,240.55h-2.70" stroke-width="0.7"/>
<path d="M47.00,235.99h2.70 M554.40,235.99h-2.70" stroke-width="0.7"/>
<path d="M47.00,232.04h2.70 M554.40,232.04h-2.70" stroke-width="0.7"/>
<path d="M47.00,228.56h2.70 M554.40,228.56h-2.70" stroke-width="0.7"/>
<path d="M47.00,225.44h5.20 M554.40,225.44h-5.20" stroke-width="0.7"/>
<path d="M47.00,204.93h2.70 M554.40,204.93h-2.70" stroke-width="0.7"/>
<path d="M47.00,192.94h2.70 M554.40,192.94h-2.70" stroke-width="0.7"/>
<path d="M47.00,184.43h2.70 M554.40,184.43h-2.70" stroke-width="0.7"/>
<path d="M47.00,177.83h2.70 M554.40,177.83h-2.70" stroke-width="0.7"/>
<path d="M47.00,172.43h2.70 M554.40,172.43h-2.70" stroke-width="0.7"/>
<path d="M47.00,167.87h2.70 M554.40,167.87h-2.70" stroke-width="0.7"/>
<path d="M47.00,163.92h2.70 M554.40,163.92h-2.70" stroke-width="0.7"/>
<path d="M47.00,160.44h2.70 M554.40,160.44h-2.70" stroke-width="0.7"/>
<path d="M47.00,157.32h5.20 M554.40,157.32h-5.20" stroke-width="0.7"/>
<path d="M47.00,136.81h2.70 M554.40,136.81h-2.70" stroke-width="0.7"/>
<path d="M47.00,124.82h2.70 M554.40,124.82h-2.70" stroke-width="0.7"/>
<path d="M47.00,116.31h2.70 M554.40,116.31h-2.70" stroke-width="0.7"/>
<path d="M47.00,109.71h2.70 M554.40,109.71h-2.70" stroke-width="0.7"/>
<path d="M47.00,104.31h2.70 M554.40,104.31h-2.70" stroke-width="0.7"/>
<path d="M47.00,99.75h2.70 M554.40,99.75h-2.70" stroke-width="0.7"/>
<path d="M47.00,95.80h2.70 M554.40,95.80h-2.70" stroke-width="0.7"/>
<path d="M47.00,92.32h2.70 M554.40,92.32h-2.70" stroke-width="0.7"/>
<path d="M47.00,89.20h5.20 M554.40,89.20h-5.20" stroke-width="0.7"/>
<path d="M47.00,68.69h2.70 M554.40,68.69h-2.70" stroke-width="0.7"/>
<path d="M47.00,56.70h2.70 M554.40,56.70h-2.70" stroke-width="0.7"/>
<path d="M47.00,48.19h2.70 M554.40,48.19h-2.70" stroke-width="0.7"/>
<path d="M47.00,41.59h2.70 M554.40,41.59h-2.70" stroke-width="0.7"/>
<path d="M47.00,36.19h2.70 M554.40,36.19h-2.70" stroke-width="0.7"/>
<path d="M47.00,31.63h2.70 M554.40,31.63h-2.70" stroke-width="0.7"/>
<path d="M47.00,27.68h2.70 M554.40,27.68h-2.70" stroke-width="0.7"/>
<path d="M47.00,24.20h2.70 M554.40,24.20h-2.70" stroke-width="0.7"/>
<path d="M47.00,21.08h5.20 M554.40,21.08h-5.20" stroke-width="0.7"/>
</g>
<text x="58.50" y="324.5" font-size="9.5" letter-spacing="-0.2" text-anchor="middle">−1.0</text>
<text x="179.28" y="324.5" font-size="9.5" letter-spacing="-0.2" text-anchor="middle">−0.5</text>
<text x="300.05" y="324.5" font-size="9.5" letter-spacing="-0.2" text-anchor="middle">0.0</text>
<text x="420.82" y="324.5" font-size="9.5" letter-spacing="-0.2" text-anchor="middle">0.5</text>
<text x="541.60" y="324.5" font-size="9.5" letter-spacing="-0.2" text-anchor="middle">1.0</text>
<text x="43.1" y="23.63" font-size="9.5" letter-spacing="-0.33" text-anchor="end">1</text>
<text x="43.1" y="91.75" font-size="9.5" letter-spacing="-0.33" text-anchor="end">0.100</text>
<text x="43.1" y="159.87" font-size="9.5" letter-spacing="-0.33" text-anchor="end">0.010</text>
<text x="43.1" y="227.99" font-size="9.5" letter-spacing="-0.33" text-anchor="end">0.001</text>
<text x="43.1" y="297.21" font-size="9.5" letter-spacing="-0.33" text-anchor="end">10<tspan font-size="6.6" dy="-4.2">−4</tspan></text>
<text transform="translate(9.7,157.8) rotate(-90)" font-size="9.4" text-anchor="middle"><tspan font-style="italic">σ</tspan>(pb)</text>
<text x="260.3" y="344.6" font-size="9.4"><tspan font-style="italic">f</tspan><tspan font-size="6.4" dy="1.6">T0</tspan><tspan dy="-1.6">/Λ</tspan><tspan font-size="6.4" dy="-3.8">4</tspan><tspan dy="3.8" dx="0.9"> (10</tspan><tspan font-size="6.3" dy="-3.8">−10</tspan><tspan dy="3.8">GeV</tspan><tspan font-size="6.3" dy="-3.8">−4</tspan><tspan dy="3.8">)</tspan></text>
<path d="M123.1,240.2 l1.5,-0.9 M129.4,230.3 h10.9" fill="none" stroke="#000" stroke-width="0.8"/>
<path d="M124.4,239.4 l2.45,5.4" fill="none" stroke="#000" stroke-width="1.25"/>
<path d="M126.75,245.0 l2.75,-14.9" fill="none" stroke="#000" stroke-width="0.7"/>
<text x="131.3" y="241.8" font-size="9.6" font-style="italic">s</text>
<text x="141.2" y="241.8" font-size="9.6">= 1.4</text>
<text x="163.9" y="241.8" font-size="9.6">TeV</text>
<path d="M377,211.35h40" stroke="#ff0000" stroke-width="2" fill="none"/>
<text x="421.4" y="214.00" font-size="10">Unpolarized</text>
<path d="M377,231.85h40" stroke="#800080" stroke-width="2" fill="none" stroke-dasharray="5.4 2.716"/>
<text x="421.4" y="235.00" font-size="10">P(e−)=−80%,P(e+)=0</text>
<path d="M377,251.00h40" stroke="#0000ff" stroke-width="2" fill="none" stroke-dasharray="11.9 11.1"/>
<text x="421.4" y="254.00" font-size="10">P(e−)=−80%,P(e+)=60%</text>
<path d="M377,270.15h38" stroke="#00ff00" stroke-width="2" fill="none" stroke-dasharray="2.6 2.1 5.85 2.48"/>
<text x="421.4" y="273.00" font-size="10">P(e−)=+80%,P(e+)=−60%</text>
<path d="M377,289.00h40" stroke="#ff8000" stroke-width="2" fill="none" stroke-dasharray="2.6 1.4633"/>
<text x="421.4" y="292.00" font-size="10">P(e−)=+80%, P(e+)=0</text>
</svg></body></html>
